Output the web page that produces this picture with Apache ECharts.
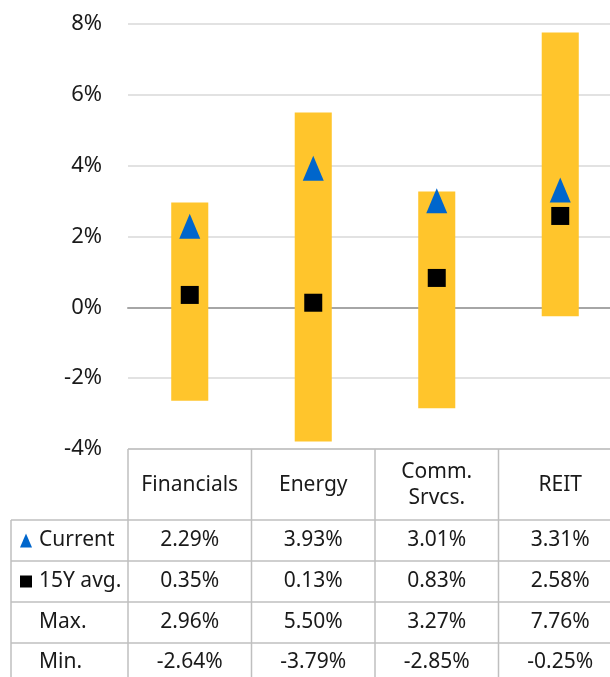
<!DOCTYPE html>
<html><head><meta charset="utf-8">
<script src="https://cdn.jsdelivr.net/npm/echarts@6/dist/echarts.min.js"></script>
<style>html,body{margin:0;padding:0;background:#fff}#c{width:610px;height:677px}</style>
</head><body><div id="c"></div>
<script>
var categories = ['Financials', 'Energy', 'Comm.\nSrvcs.', 'REIT'];
var currentVals = [2.29, 3.93, 3.01, 3.31];
var avg15Vals = [0.35, 0.13, 0.83, 2.58];
var maxVals = [2.96, 5.50, 3.27, 7.76];
var minVals = [-2.64, -3.79, -2.85, -0.25];
var rowLabels = ['Current', '15Y avg.', 'Max.', 'Min.'];
var yTicks = [-4, -2, 0, 2, 4, 6, 8];

var FONT = '"Noto Sans", sans-serif';
var chart = echarts.init(document.getElementById('c'));
var rangeData = categories.map(function (c, i) { return [i, minVals[i], maxVals[i]]; });

chart.setOption({
  animation: false,
  grid: { left: 128, width: 494, top: 24, bottom: 228, containLabel: false, outerBoundsMode: 'none' },
  xAxis: {
    type: 'category', data: categories, boundaryGap: true,
    axisLine: { show: true, onZero: true, lineStyle: { color: '#a6a6a6', width: 2 } },
    axisTick: { show: false }, axisLabel: { show: false }
  },
  yAxis: {
    type: 'value', min: yTicks[0], max: yTicks[yTicks.length - 1], interval: 2,
    axisLine: { show: false }, axisTick: { show: false },
    axisLabel: { formatter: '{value}%', fontSize: 22, color: '#1a1a1a', fontFamily: FONT, margin: 26 },
    splitLine: { lineStyle: { color: '#d9d9d9', width: 1.5 } }
  },
  series: [
    {
      type: 'custom', name: 'Range', data: rangeData, z: 2,
      encode: { x: 0, y: [1, 2] },
      renderItem: function (params, api) {
        var lo = api.coord([api.value(0), api.value(1)]);
        var hi = api.coord([api.value(0), api.value(2)]);
        var w = api.size([1, 0])[0] * 0.3;
        return { type: 'rect', shape: { x: lo[0] - w / 2, y: hi[1], width: w, height: lo[1] - hi[1] },
                 style: { fill: '#FFC52C' } };
      }
    },
    {
      type: 'scatter', name: 'Current', data: currentVals, symbol: 'triangle', symbolSize: [21, 25],
      itemStyle: { color: '#0066CC', opacity: 1 }, z: 5
    },
    {
      type: 'scatter', name: '15Y avg.', data: avg15Vals, symbol: 'rect', symbolSize: 18,
      itemStyle: { color: '#000', opacity: 1 }, z: 5
    }
  ]
});

function buildTable() {
  var lineC = '#bfbfbf', lw = 1.5;
  var top = 449, headBot = 520, rowH = 41, bottom = 680;
  var left0 = 11, left1 = 128, right = 630;
  var rowYs = [headBot, headBot + rowH, headBot + 2 * rowH, headBot + 3 * rowH];
  var g = [];
  var colX = categories.map(function (c, i) { return chart.convertToPixel({ xAxisIndex: 0 }, i); });
  var half = (colX[1] - colX[0]) / 2;
  g.push({ type: 'line', shape: { x1: left1, y1: top, x2: right, y2: top }, style: { stroke: lineC, lineWidth: lw } });
  rowYs.forEach(function (y) {
    g.push({ type: 'line', shape: { x1: left0, y1: y, x2: right, y2: y }, style: { stroke: lineC, lineWidth: lw } });
  });
  g.push({ type: 'line', shape: { x1: left0, y1: headBot, x2: left0, y2: bottom }, style: { stroke: lineC, lineWidth: lw } });
  g.push({ type: 'line', shape: { x1: left1, y1: top, x2: left1, y2: bottom }, style: { stroke: lineC, lineWidth: lw } });
  colX.forEach(function (x) {
    g.push({ type: 'line', shape: { x1: x + half, y1: top, x2: x + half, y2: bottom }, style: { stroke: lineC, lineWidth: lw } });
  });
  var txt = { fill: '#1a1a1a', font: '21px ' + FONT, align: 'center', verticalAlign: 'middle' };
  colX.forEach(function (x, i) {
    g.push({ type: 'text', x: x, y: (top + headBot) / 2 + 1, style: Object.assign({}, txt, { text: categories[i], lineHeight: 26 }) });
  });
  var rows = [currentVals, avg15Vals, maxVals, minVals];
  rows.forEach(function (vals, r) {
    var cy = rowYs[r] + rowH / 2 + (r === 3 ? -1 : 0);
    colX.forEach(function (x, i) {
      g.push({ type: 'text', x: x, y: cy, style: Object.assign({}, txt, { text: vals[i].toFixed(2) + '%' }) });
    });
    g.push({ type: 'text', x: 39, y: cy, style: Object.assign({}, txt, { text: rowLabels[r], align: 'left' }) });
  });
  var cy0 = rowYs[0] + rowH / 2;
  g.push({ type: 'polygon', shape: { points: [[20, cy0 + 7], [32, cy0 + 7], [26, cy0 - 7]] }, style: { fill: '#0066CC' } });
  var cy1 = rowYs[1] + rowH / 2;
  g.push({ type: 'rect', shape: { x: 20, y: cy1 - 6, width: 12, height: 12 }, style: { fill: '#000' } });
  chart.setOption({ graphic: { elements: g } });
}
buildTable();
</script></body></html>
